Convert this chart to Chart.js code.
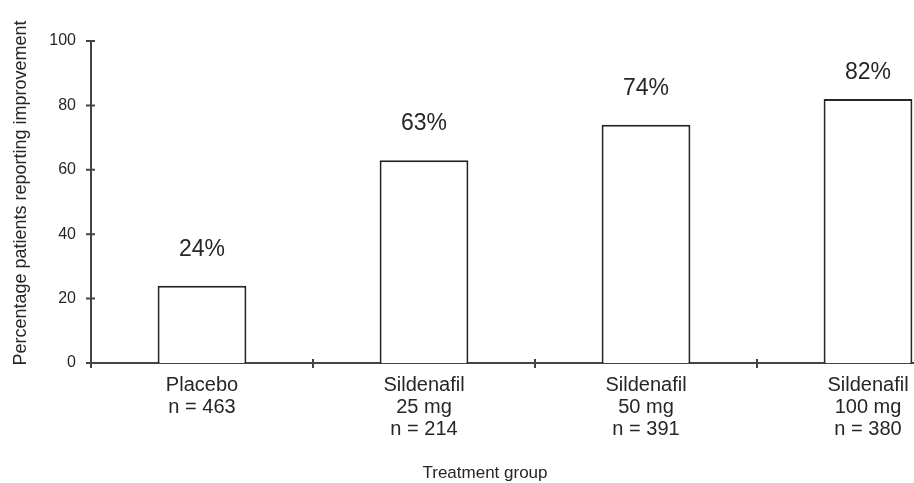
<!DOCTYPE html>
<html>
<head>
<meta charset="utf-8">
<script src="https://cdn.jsdelivr.net/npm/chart.js@4"></script>
<style>
    html, body { margin: 0; padding: 0; background: #fff; overflow: hidden; }
    #clip { width: 914px; height: 483px; overflow: hidden; }
    #wrap { width: 1000px; height: 483px; position: relative; }
</style>
</head>
<body>
<div id="clip"><div id="wrap"><canvas id="chart"></canvas></div></div>
<script>
// data
const groups = [
    ['Placebo', 'n = 463'],
    ['Sildenafil', '25 mg', 'n = 214'],
    ['Sildenafil', '50 mg', 'n = 391'],
    ['Sildenafil', '100 mg', 'n = 380']
];
const improved = [24, 63, 74, 82];
const yTicks = [0, 20, 40, 60, 80, 100];

const FONT = '"Liberation Sans", Arial, Helvetica, sans-serif';
const INK = '#262626';
const AXIS = '#444';

// crossing tick marks, percent labels and axis titles
const decor = {
    id: 'decor',
    afterDatasetsDraw(chart) {
        const { ctx, chartArea, scales: { x, y } } = chart;
        ctx.save();
        ctx.strokeStyle = AXIS;
        ctx.lineWidth = 2;
        ctx.beginPath();
        yTicks.forEach(v => {
            const py = y.getPixelForValue(v);
            ctx.moveTo(x.left - 5, py);
            ctx.lineTo(x.left + 4, py);
        });
        const step = x.width / groups.length;
        for (let k = 0; k <= groups.length; k++) {
            const px = x.left + k * step;
            ctx.moveTo(px, y.bottom - 4);
            ctx.lineTo(px, y.bottom + 5);
        }
        ctx.stroke();

        ctx.fillStyle = INK;
        ctx.font = '23px ' + FONT;
        ctx.textAlign = 'center';
        ctx.textBaseline = 'middle';
        chart.getDatasetMeta(0).data.forEach((bar, i) => {
            const ly = Math.max(bar.y - 36, chartArea.top + 32);
            ctx.fillText(improved[i] + '%', bar.x, ly);
        });

        ctx.font = '17px ' + FONT;
        ctx.textBaseline = 'alphabetic';
        ctx.fillText('Treatment group', 485, 478);

        ctx.font = '18px ' + FONT;
        ctx.translate(21, 193);
        ctx.rotate(-Math.PI / 2);
        ctx.textBaseline = 'middle';
        ctx.fillText('Percentage patients reporting improvement', 0, 0);
        ctx.restore();
    }
};

new Chart(document.getElementById('chart'), {
    type: 'bar',
    data: {
        labels: groups,
        datasets: [{
            data: improved,
            backgroundColor: '#fff',
            borderColor: INK,
            borderWidth: 2,
            barPercentage: 0.4,
            categoryPercentage: 1
        }]
    },
    options: {
        responsive: true,
        maintainAspectRatio: false,
        animation: false,
        layout: { padding: { top: 41, right: 21, left: 0, bottom: 0 } },
        plugins: {
            legend: { display: false },
            tooltip: { enabled: false }
        },
        scales: {
            x: {
                grid: { display: false, drawTicks: false },
                border: { display: true, color: AXIS, width: 2 },
                ticks: {
                    color: INK,
                    padding: 11,
                    maxRotation: 0,
                    autoSkip: false,
                    font: { family: FONT, size: 20, lineHeight: 1.1 }
                },
                afterFit: s => { s.height = 120; }
            },
            y: {
                min: 0,
                max: 100,
                grid: { display: false, drawTicks: false },
                border: { display: true, color: AXIS, width: 2 },
                ticks: {
                    stepSize: 20,
                    color: INK,
                    padding: 15,
                    font: { family: FONT, size: 16 }
                },
                afterFit: s => { s.width = 91; }
            }
        }
    },
    plugins: [decor]
});
</script>
</body>
</html>
